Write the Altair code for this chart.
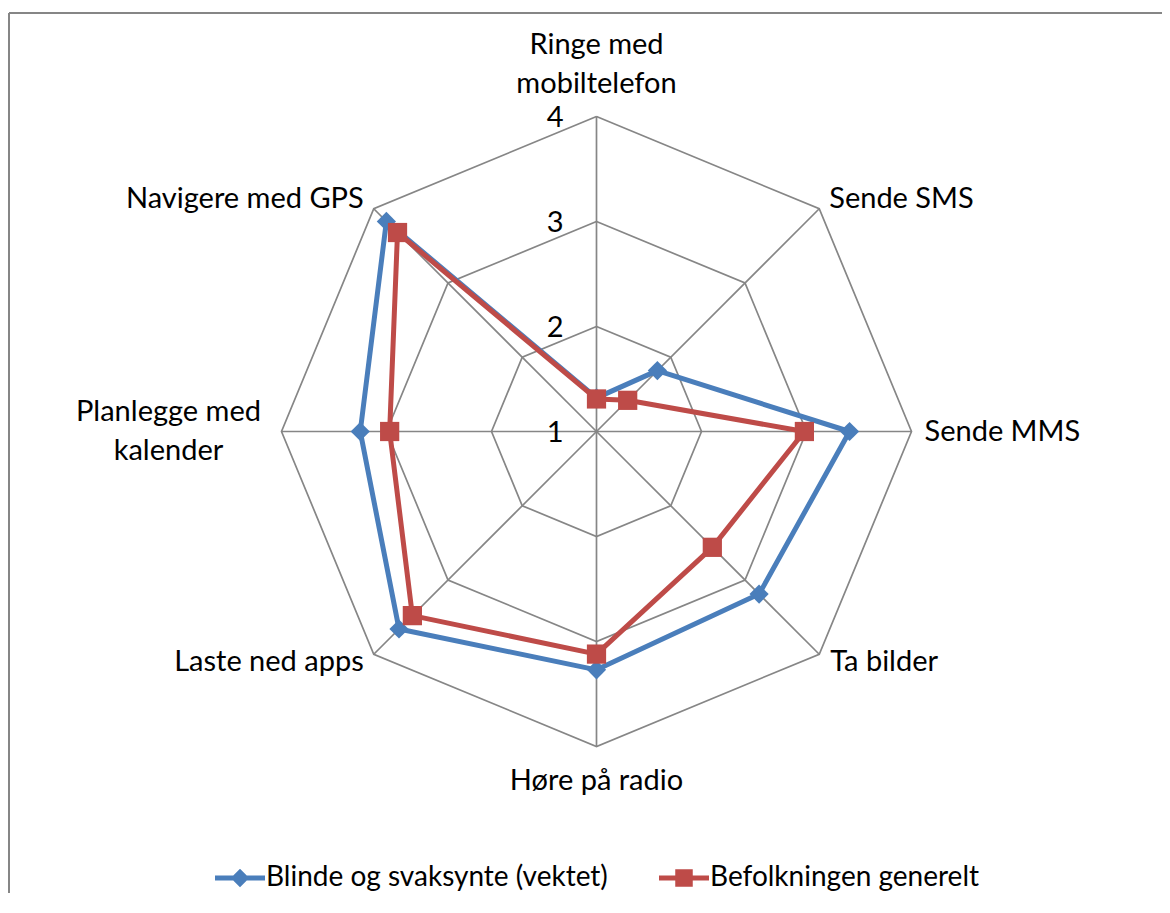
import altair as alt
import pandas as pd

# ---------------- data ----------------
categories = ["Ringe med mobiltelefon", "Sende SMS", "Sende MMS", "Ta bilder",
              "Høre på radio", "Laste ned apps", "Planlegge med kalender", "Navigere med GPS"]
category_labels = ["Ringe med\nmobiltelefon", "Sende SMS", "Sende MMS", "Ta bilder",
                   "Høre på radio", "Laste ned apps", "Planlegge med\nkalender", "Navigere med GPS"]
series_names = ["Blinde og svaksynte (vektet)", "Befolkningen generelt"]
blinde = [1.32, 1.82, 3.41, 3.19, 3.27, 3.66, 3.25, 3.83]
befolkning = [1.31, 1.42, 2.98, 2.56, 3.12, 3.48, 2.97, 3.68]
levels = [1, 2, 3, 4]
tick_labels = ["1", "2", "3", "4"]

# ---------------- style ----------------
BLUE, RED, GRID = "#4A7EBB", "#BE4B48", "#868686"
FONT, FS, LEG_FS = "Lato", 29, 28
W, H = 1153, 880
CX, CY, UNIT = 587.5, 418.5, 105.0
n = len(categories)
base, top = levels[0], levels[-1]

x_scale = alt.Scale(domain=[-CX / UNIT, (W - CX) / UNIT], nice=False, zero=False)
y_scale = alt.Scale(domain=[-(H - CY) / UNIT, CY / UNIT], nice=False, zero=False)
X = alt.X("x:Q", scale=x_scale, axis=None)
Y = alt.Y("y:Q", scale=y_scale, axis=None)


def polar(ch):
    return (ch.transform_calculate(r=f"datum.value - {base}")
              .transform_calculate(ang=f"datum.idx * 2 * PI / {n}")
              .transform_calculate(x="datum.r * sin(datum.ang)")
              .transform_calculate(y="datum.r * cos(datum.ang)"))


# tables built from the arrays
series_rows = []
for name, vals in zip(series_names, [blinde, befolkning]):
    for k in range(n + 1):
        series_rows.append({"series": name, "order": k, "idx": k % n, "value": vals[k % n]})
series_df = pd.DataFrame(series_rows)

ring_rows = []
for lv in levels[1:]:
    for k in range(n + 1):
        ring_rows.append({"level": lv, "order": k, "idx": k % n, "value": lv})
ring_df = pd.DataFrame(ring_rows)

spoke_df = pd.DataFrame({"idx": list(range(n)), "value": [top] * n})
tick_df = pd.DataFrame({"idx": [0] * len(levels), "value": levels, "label": tick_labels})
label_df = pd.DataFrame({"idx": list(range(n)), "value": [top] * n, "label": category_labels})

# ---------------- layers ----------------
frame_df = pd.DataFrame({"a": [0]})
frame_top = alt.Chart(frame_df).mark_rule(color=GRID, strokeWidth=2).encode(
    x=alt.value(0), x2=alt.value(W + 10), y=alt.value(0))
frame_left = alt.Chart(frame_df).mark_rule(color=GRID, strokeWidth=2).encode(
    x=alt.value(0), y=alt.value(0), y2=alt.value(H + 40))

rings = polar(alt.Chart(ring_df)).mark_line(color=GRID, strokeWidth=1.7).encode(
    x=X, y=Y, detail="level:N", order="order:Q")

spokes = polar(alt.Chart(spoke_df)).transform_calculate(x0="0", y0="0").mark_rule(
    color=GRID, strokeWidth=1.7).encode(
    x=alt.X("x0:Q", scale=x_scale, axis=None), y=alt.Y("y0:Q", scale=y_scale, axis=None),
    x2="x:Q", y2="y:Q")

ticks = polar(alt.Chart(tick_df)).mark_text(
    font=FONT, fontSize=FS, align="right", baseline="middle", dx=-33, dy=1, color="black").encode(
    x=X, y=Y, text="label:N")


def series_layers(name, color, shape):
    d = alt.Chart(series_df).transform_filter(alt.datum.series == name)
    line = polar(d).mark_line(color=color, strokeWidth=5, strokeJoin="round").encode(
        x=X, y=Y, order="order:Q")
    pts = polar(d.transform_filter(alt.datum.order < n)).mark_point(
        filled=True, shape=shape, size=370, color=color, opacity=1).encode(x=X, y=Y)
    return [line, pts]


label_specs = [
    # idx, align, baseline, dx, dy
    (0, "center", "middle", 0, -72),
    (1, "left", "middle", 10, -10),
    (2, "left", "middle", 13, 0),
    (3, "left", "middle", 11, 8),
    (4, "center", "middle", 0, 34),
    (5, "right", "middle", -10, 8),
    (6, "center", "middle", -113, -20),
    (7, "right", "middle", -10, -10),
]
cat_layers = []
for idx, align, bl, dx, dy in label_specs:
    cat_layers.append(
        polar(alt.Chart(label_df).transform_filter(alt.datum.idx == idx)).mark_text(
            font=FONT, fontSize=FS, align=align, baseline=bl, dx=dx, dy=dy,
            lineBreak="\n", lineHeight=39, color="black").encode(x=X, y=Y, text="label:N"))

# legend (symbols are line + marker)
diamond_path = "M-1,-0.1L1,-0.1L1,0.1L-1,0.1Z M0,-0.37L0.37,0L0,0.37L-0.37,0Z"
square_path = "M-1,-0.1L1,-0.1L1,0.1L-1,0.1Z M-0.35,-0.35L0.35,-0.35L0.35,0.35L-0.35,0.35Z"
leg = alt.Legend(title=None, orient="none", legendX=206, legendY=840, direction="horizontal",
                 symbolSize=2500, symbolOpacity=1, symbolStrokeWidth=0,
                 labelFont=FONT, labelFontSize=LEG_FS, labelColor="black", labelOffset=1,
                 labelLimit=800, columnPadding=51, padding=0)
legend_layer = polar(alt.Chart(series_df).transform_filter(alt.datum.order == 0)).mark_point(
    filled=True).encode(
    x=X, y=Y,
    color=alt.Color("series:N", scale=alt.Scale(domain=series_names, range=[BLUE, RED]), legend=leg),
    shape=alt.Shape("series:N", scale=alt.Scale(domain=series_names, range=[diamond_path, square_path]),
                    legend=leg),
    opacity=alt.value(0))

layers = [frame_top, frame_left, rings, spokes, ticks] \
    + series_layers(series_names[0], BLUE, "diamond") \
    + series_layers(series_names[1], RED, "square") \
    + cat_layers + [legend_layer]

chart = alt.layer(*layers).properties(
    width=W, height=H,
    autosize=alt.AutoSizeParams(type="none"),
    padding={"left": 1, "top": 5, "right": 0, "bottom": 0},
).configure_view(stroke=None).configure(background="white")

chart.save("out.html", embed_options={"renderer": "svg", "actions": False})
